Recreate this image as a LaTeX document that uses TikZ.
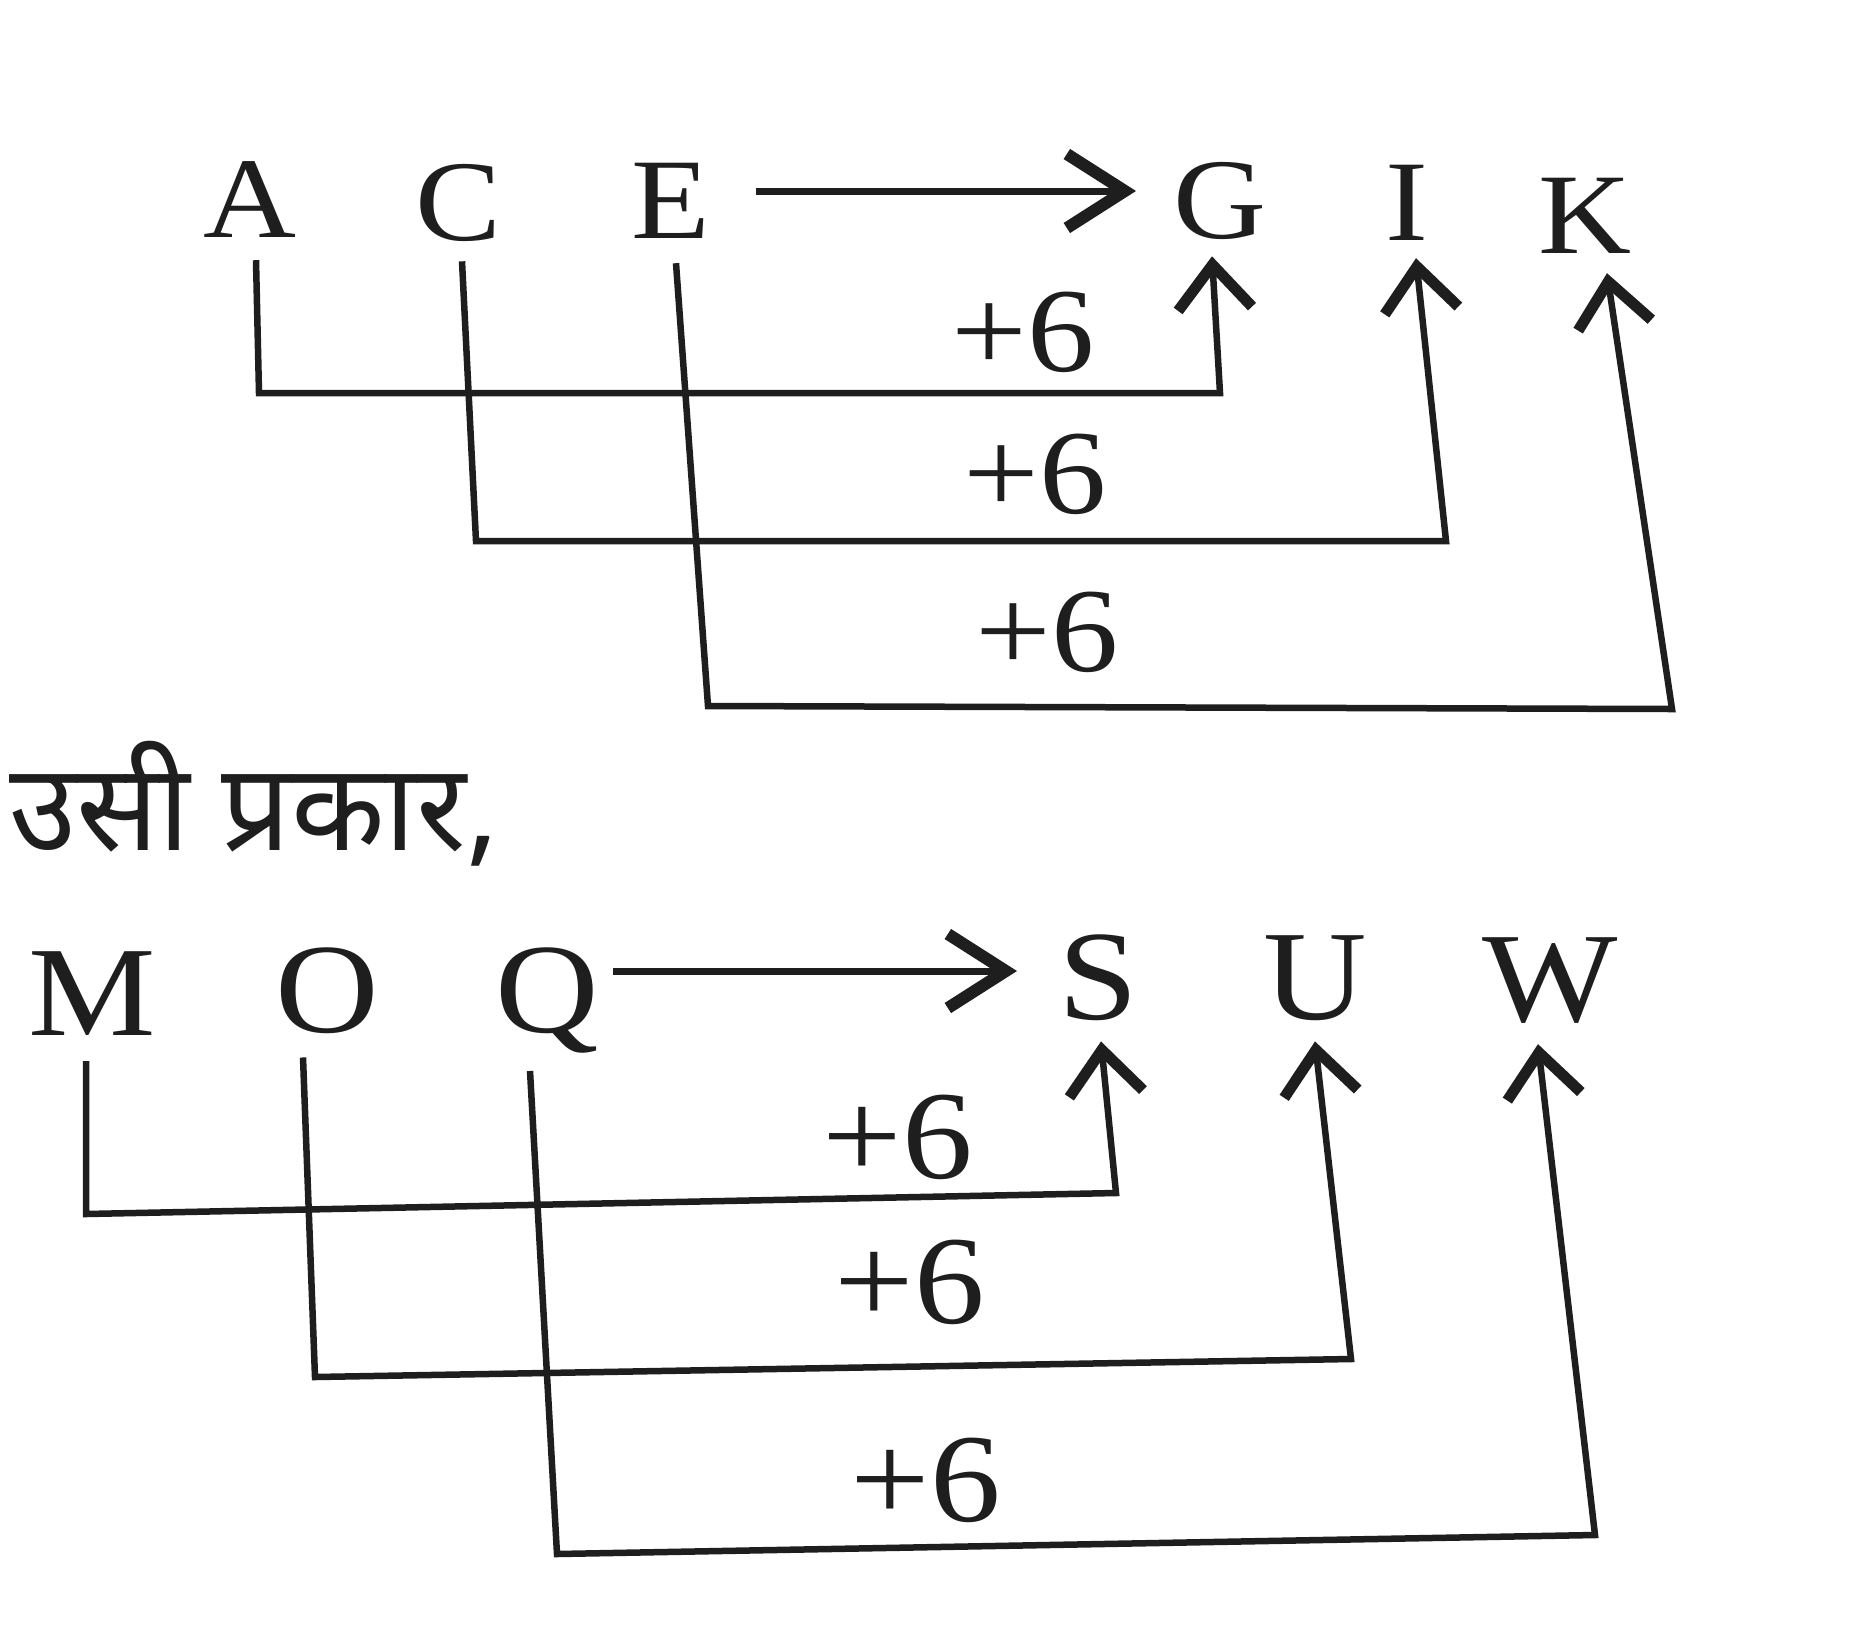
\documentclass[tikz,border=0pt]{standalone}
\usepackage{fontspec}
\setmainfont{Liberation Serif}
\newfontfamily\hindi[Script=Devanagari]{Noto Sans}
\usetikzlibrary{arrows.meta}
\newcommand{\widetxt}[1]{\scalebox{1.12}[1]{#1}}
\definecolor{ink}{HTML}{1E1E1E}
\tikzset{
  letA/.style={anchor=base,inner sep=0pt,text=ink,font=\fontsize{115}{120}\selectfont},
  letB/.style={anchor=base,inner sep=0pt,text=ink,font=\fontsize{128}{130}\selectfont},
  plusA/.style={inner sep=0pt,text=ink,font=\fontsize{120}{125}\selectfont},
  plusB/.style={inner sep=0pt,text=ink,font=\fontsize{126}{130}\selectfont},
  conn/.style={draw=ink,line width=6.5pt,line join=miter,-{Straight Barb[length=44pt,width=74pt,line width=11pt]}},
  harrow/.style={draw=ink,line width=7pt,-{Straight Barb[length=58pt,width=74pt,line width=12pt]}}
}
\begin{document}
\begin{tikzpicture}[x=1pt,y=-1pt]
\useasboundingbox (0,0) rectangle (1866,1626);
\fill[white] (0,0) rectangle (1866,1626);
% top row
\node[letA] (A) at (250,237) {\widetxt{A}};
\node[letA] (C) at (458,240) {\widetxt{C}};
\node[letA] (E) at (671,238) {\widetxt{E}};
\node[letA] (G) at (1220,238) {\widetxt{G}};
\node[letA] (I) at (1407,240) {\widetxt{I}};
\node[letA] (K) at (1585,253) {\widetxt{K}};
\coordinate (e1) at (756,191);
\coordinate (g1) at (1136,191);
\draw[harrow] (e1) -- (g1);
\draw[conn] ([xshift=6pt,yshift=-23pt]A.south) -- (259,393) -- (1220,393) -- ([xshift=-8pt,yshift=-17pt]G.south);
\draw[conn] ([xshift=4pt,yshift=-20pt]C.south) -- (476,541) -- (1446,541) -- ([xshift=9pt,yshift=-18pt]I.south);
\draw[conn] ([xshift=5pt,yshift=-25pt]E.south) -- (708,706) -- (1672,709) -- ([xshift=22pt,yshift=-20pt]K.south);
\node[plusA] (p1) at (1023,332) {\widetxt{+6}};
\node[plusA] (p2) at (1035,474) {\widetxt{+6}};
\node[plusA] (p3) at (1047,632) {\widetxt{+6}};
% middle text
\node[anchor=base west,inner sep=0pt,text=ink,font=\fontsize{122}{125}\hindi] (txt) at (9,850) {उसी प्रकार,};
% bottom row
\node[letB] (M) at (92,1035) {\widetxt{M}};
\node[letB] (O) at (327,1032) {\widetxt{O}};
\node[letB] (Q) at (547,1032) {\widetxt{Q}};
\node[letB] (S) at (1098,1019) {\widetxt{S}};
\node[letB] (U) at (1315,1019) {\widetxt{U}};
\node[letB] (W) at (1550,1021) {\widetxt{W}};
\coordinate (q1) at (613,971);
\coordinate (s1) at (1017,971);
\draw[harrow] (q1) -- (s1);
\draw[conn] ([xshift=-6pt,yshift=-26pt]M.south) -- (86,1214) -- (1116,1193) -- ([xshift=3pt,yshift=-21pt]S.south);
\draw[conn] ([xshift=-24pt,yshift=-24pt]O.south) -- (315,1377) -- (1351,1359) -- ([yshift=-21pt]U.south);
\draw[conn] ([xshift=-17pt,yshift=-18pt]Q.south) -- (557,1554) -- (1595,1535) -- ([xshift=-12pt,yshift=-21pt]W.south);
\node[plusB] (p4) at (898,1137) {\widetxt{+6}};
\node[plusB] (p5) at (910,1282) {\widetxt{+6}};
\node[plusB] (p6) at (926,1480) {\widetxt{+6}};
\end{tikzpicture}
\end{document}
